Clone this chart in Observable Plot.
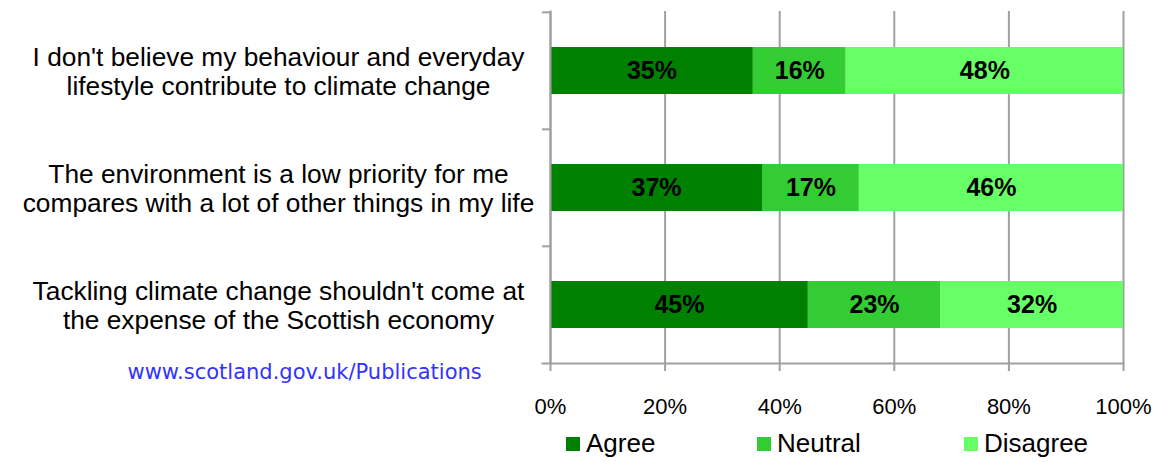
<!DOCTYPE html>
<html><head><meta charset="utf-8">
<script src="https://cdn.jsdelivr.net/npm/d3@7"></script>
<script src="https://cdn.jsdelivr.net/npm/@observablehq/plot@0.6"></script>
<style>
body{margin:0;background:#fff;font-family:"Liberation Sans",Arial,sans-serif;}
#legend{position:relative;height:37px;width:1157px;}
.item{position:absolute;top:0;display:flex;align-items:center;height:37px;font-size:26px;color:#000;white-space:nowrap}
.sw{width:14px;height:14px;margin-right:6px}
</style></head><body><div id="chart"></div><div id="legend"></div>
<script>
const categories = [
  "I don't believe my behaviour and everyday\nlifestyle contribute to climate change",
  "The environment is a low priority for me\ncompares with a lot of other things in my life",
  "Tackling climate change shouldn't come at\nthe expense of the Scottish economy"
];
const series = ["Agree", "Neutral", "Disagree"];
const colors = ["#008000", "#33CC33", "#66FF66"];
const agree = [35.4, 37.0, 45.0];
const neutral = [16.2, 16.9, 23.1];
const disagree = [48.4, 46.1, 31.9];
const xTicks = [0, 20, 40, 60, 80, 100];
const caption = "www.scotland.gov.uk/Publications";

const W = 1157, H = 425, mL = 550, mR = 34, mT = 11, mB = 62;
const step = (H - mT - mB) / categories.length;

const values = [agree, neutral, disagree];
const data = [];
categories.forEach((c, i) => series.forEach((s, j) => data.push({category: c, series: s, value: values[j][i]})));

const axisColor = "#a0a0a0";
const chart = Plot.plot({
  width: W, height: H,
  marginLeft: mL, marginRight: mR, marginTop: mT, marginBottom: mB,
  style: {fontFamily: "Liberation Sans, Arial, sans-serif", fontSize: "22px", background: "white", overflow: "visible"},
  x: {domain: [0, 100], axis: null},
  y: {domain: categories, paddingInner: 0.6, paddingOuter: 0.3, axis: null},
  color: {domain: series, range: colors},
  marks: [
    Plot.gridX(xTicks, {stroke: axisColor, strokeOpacity: 1, strokeWidth: 2}),
    Plot.barX(data, {x: "value", y: "category", fill: "series"}),
    Plot.text(data, Plot.stackX({x: "value", y: "category", z: "series",
      text: d => Math.round(d.value) + "%", fontWeight: "bold", fontSize: 25, fill: "black"})),
    Plot.text(categories, {y: d => d, frameAnchor: "left", dx: -272, textAnchor: "middle",
      fontSize: 26.3, lineHeight: 1.11, fill: "black"}),
    Plot.frame({anchor: "left", stroke: axisColor, strokeWidth: 2}),
    Plot.frame({anchor: "bottom", stroke: axisColor, strokeWidth: 2, insetLeft: -8}),
    Plot.axisX({ticks: xTicks, tickSize: 8, tickPadding: 27, tickFormat: d => d + "%", label: null,
      fontSize: 22, stroke: axisColor, strokeWidth: 2, fill: "black"}),
    Plot.axisY({tickSize: 8, tickFormat: () => "", label: null, dy: -step / 2, stroke: axisColor, strokeWidth: 2}),
    Plot.text([caption], {frameAnchor: "bottom-left", dx: -423, dy: 15, textAnchor: "start",
      fill: "#3333ff", fontSize: 21, fontFamily: "DejaVu Sans"})
  ]
});
document.getElementById("chart").appendChild(chart);

const legendLefts = [566, 757, 964];
const legend = document.getElementById("legend");
series.forEach((s, i) => {
  const item = document.createElement("div");
  item.className = "item";
  item.style.left = legendLefts[i] + "px";
  item.innerHTML = `<span class="sw" style="background:${colors[i]}"></span><span>${s}</span>`;
  legend.appendChild(item);
});
</script></body></html>
